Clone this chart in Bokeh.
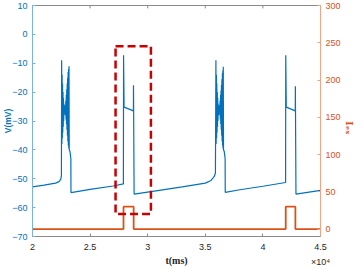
import math
from bokeh.plotting import figure
from bokeh.models import Range1d, LinearAxis, FixedTicker
from bokeh.embed import file_html
from bokeh.resources import INLINE

# ---------------- data ----------------
# membrane potential V (mV) vs time t (ms)
t_ramp1 = [20000, 21000, 22000, 22300, 22450, 22510]
v_ramp1 = [-52.8, -52.2, -51.5, -51.0, -50.2, -49.0]

t_burst1 = [22530, 22550, 22570, 22590, 22610, 22630, 22650, 22670, 22690, 22710,
            22730, 22750, 22770, 22790, 22810, 22830, 22850, 22870, 22890, 22910,
            22930, 22950, 22970, 22990, 23010, 23030, 23050, 23070, 23090, 23110,
            23130, 23150, 23170, 23190, 23250, 23330]
v_burst1 = [-9.0, -38.0, -14.0, -36.0, -17.0, -34.0, -20.0, -32.0, -22.0, -30.0,
            -24.0, -28.0, -25.0, -27.0, -25.5, -27.0, -24.5, -28.0, -23.0, -29.5,
            -21.0, -31.0, -19.0, -33.0, -17.0, -35.0, -15.0, -37.0, -13.0, -38.5,
            -12.0, -39.5, -11.0, -40.0, -40.5, -43.0]

t_mid1 = [23340, 25000, 27000, 27890]
v_mid1 = [-54.8, -53.7, -52.5, -51.8]

t_pulse1 = [27905, 27950, 28760, 28767, 28820]
v_pulse1 = [-7.2, -25.2, -26.5, -17.6, -55.3]

t_ramp2 = [28830, 31000, 33000, 35000, 35500, 35780, 35880]
v_ramp2 = [-55.3, -54.0, -52.8, -51.5, -50.6, -49.2, -48.0]

t_burst2 = [35921, 35941, 35961, 35981, 36001, 36021, 36041, 36061, 36081, 36101,
            36121, 36141, 36161, 36181, 36201, 36221, 36241, 36261, 36281, 36301,
            36321, 36341, 36361, 36381, 36401, 36421, 36441, 36461, 36481, 36501,
            36521, 36541, 36561, 36581, 36641, 36721]
v_burst2 = [-9.0, -38.0, -14.0, -36.0, -17.0, -34.0, -20.0, -32.0, -22.0, -30.0,
            -24.0, -28.0, -25.0, -27.0, -25.5, -27.0, -24.5, -28.0, -23.0, -29.5,
            -21.0, -31.0, -19.5, -33.0, -17.5, -35.0, -15.5, -37.0, -13.5, -38.5,
            -12.5, -39.5, -11.2, -40.0, -40.5, -43.0]

t_mid2 = [36731, 38000, 40000, 41970]
v_mid2 = [-54.7, -53.8, -52.6, -51.3]

t_pulse2 = [41983, 42030, 42810, 42818, 42870]
v_pulse2 = [-7.2, -25.2, -26.5, -18.0, -55.3]

t_tail = [42880, 45000]
v_tail = [-55.3, -54.0]

# external current I_ex vs time (ms)
t_iex = [20000, 27900, 27900, 28780, 28780, 41980, 41980, 42820, 42820, 45000]
i_ex = [0, 0, 30, 30, 0, 0, 30, 30, 0, 0]

# highlighted window (dashed red box)
box_t = [27210, 30280]
box_v = [-62.2, -4.1]

x_ticks = [20000, 25000, 30000, 35000, 40000, 45000]
x_tick_labels = ["2", "2.5", "3", "3.5", "4", "4.5\n×10⁴"]
v_ticks = [-70, -60, -50, -40, -30, -20, -10, 0, 10]
i_ticks = [0, 50, 100, 150, 200, 250, 300]

# ---------------- figure ----------------
BLUE = "#0072BD"
ORANGE = "#D95319"
GREY = "#262626"
AXGREY = "#8a8a8a"

p = figure(width=363, height=269, x_range=Range1d(20000, 45000), y_range=Range1d(-70, 10),
           output_backend="svg", toolbar_location=None,
           min_border_left=31, min_border_right=42, min_border_top=5, min_border_bottom=33)
p.extra_y_ranges = {"iex": Range1d(-10, 300)}
p.xgrid.visible = False
p.ygrid.visible = False
p.outline_line_color = AXGREY
p.background_fill_color = "white"
p.border_fill_color = "white"

v_t = t_ramp1 + t_burst1 + t_mid1 + t_pulse1 + t_ramp2 + t_burst2 + t_mid2 + t_pulse2 + t_tail
v_v = v_ramp1 + v_burst1 + v_mid1 + v_pulse1 + v_ramp2 + v_burst2 + v_mid2 + v_pulse2 + v_tail
p.line(v_t, v_v, line_color=BLUE, line_width=1.2)

p.line(t_iex, i_ex, line_color=ORANGE, line_width=1.8, y_range_name="iex")

bx = [box_t[0], box_t[1], box_t[1], box_t[0], box_t[0]]
by = [box_v[1], box_v[1], box_v[0], box_v[0], box_v[1]]
p.line(bx, by, line_color="#C80000", line_width=2.5, line_dash="8 4")

# top box ticks (inward)
p.segment(x0=x_ticks, y0=[10] * len(x_ticks), x1=x_ticks, y1=[9.0] * len(x_ticks),
          line_color=AXGREY, line_width=1)

# bottom axis
xa = p.xaxis[0]
xa.ticker = FixedTicker(ticks=x_ticks)
xa.major_label_overrides = {t: s for t, s in zip(x_ticks, x_tick_labels)}
xa.minor_tick_line_color = None
xa.major_tick_in = 3
xa.major_tick_out = 0
xa.axis_line_color = AXGREY
xa.major_tick_line_color = AXGREY
xa.major_label_text_color = GREY
xa.major_label_text_font = "Liberation Sans"
xa.major_label_text_font_size = "9px"
xa.major_label_text_line_height = 1.5
xa.major_label_standoff = 5
xa.axis_label = "t(ms)"
xa.axis_label_text_font = "Liberation Serif"
xa.axis_label_text_font_style = "bold"
xa.axis_label_text_font_size = "10px"
xa.axis_label_text_color = GREY
xa.axis_label_standoff = -15

# left axis
ya = p.yaxis[0]
ya.ticker = FixedTicker(ticks=v_ticks)
ya.minor_tick_line_color = None
ya.major_tick_in = 3
ya.major_tick_out = 0
ya.axis_line_color = "#7ab3dc"
ya.major_tick_line_color = "#7ab3dc"
ya.major_label_text_color = BLUE
ya.major_label_text_font = "Liberation Sans"
ya.major_label_text_font_size = "9px"
ya.major_label_standoff = 5
ya.axis_label = "V(mV)"
ya.axis_label_text_font = "Liberation Sans"
ya.axis_label_text_font_style = "bold"
ya.axis_label_text_font_size = "8.5px"
ya.axis_label_text_color = BLUE
ya.axis_label_standoff = -4

# right axis
ra = LinearAxis(y_range_name="iex", ticker=FixedTicker(ticks=i_ticks))
ra.minor_tick_line_color = None
ra.major_tick_in = 3
ra.major_tick_out = 0
ra.axis_line_color = "#f0a486"
ra.major_tick_line_color = "#f0a486"
ra.major_label_text_color = ORANGE
ra.major_label_text_font = "Liberation Sans"
ra.major_label_text_font_size = "9px"
ra.major_label_standoff = 5
ra.axis_label = "Iₑₓ"
ra.axis_label_orientation = -math.pi / 2
ra.axis_label_text_font = "DejaVu Serif"
ra.axis_label_text_font_style = "bold"
ra.axis_label_text_font_size = "10px"
ra.axis_label_text_color = ORANGE
ra.axis_label_standoff = 6
p.add_layout(ra, "right")

open("out.html", "w").write(file_html(p, INLINE))
